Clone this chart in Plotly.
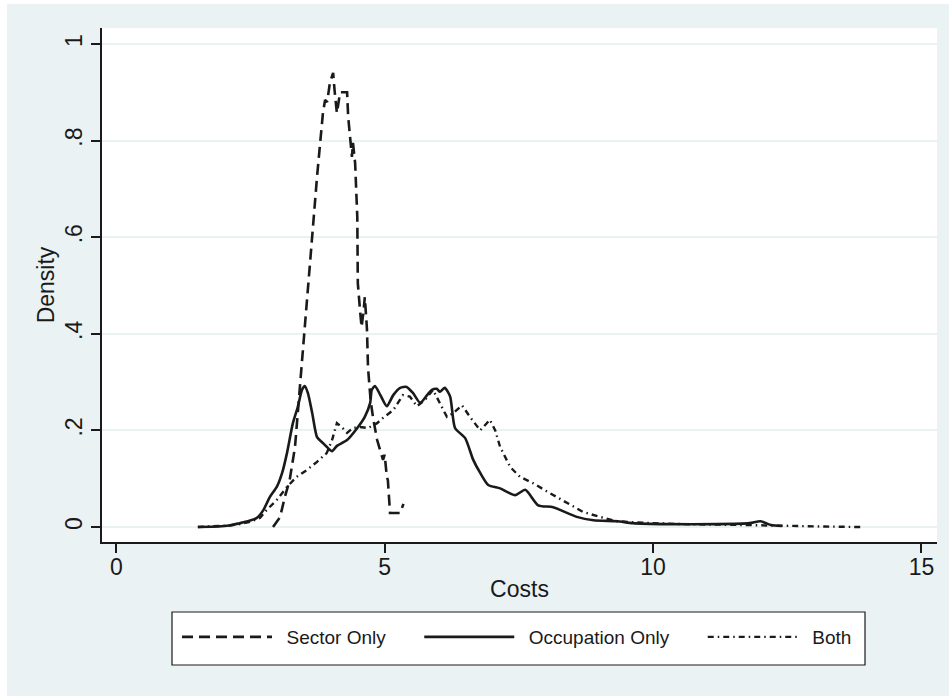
import plotly.graph_objects as go

# Sector Only (dashed)
sector_x = [2.92, 3.05, 3.14, 3.23, 3.33, 3.42, 3.51, 3.60, 3.67, 3.74, 3.80, 3.85, 3.89, 3.93, 3.98, 4.04,
            4.07, 4.11, 4.17, 4.22, 4.30, 4.32, 4.36, 4.39, 4.41, 4.45, 4.49, 4.50, 4.54, 4.57, 4.61, 4.63,
            4.67, 4.69, 4.74, 4.79, 4.86, 4.92, 4.97, 5.00, 5.02, 5.04, 5.06, 5.10, 5.16, 5.29, 5.35]
sector_y = [0.0, 0.02, 0.062, 0.097, 0.166, 0.284, 0.408, 0.538, 0.629, 0.725, 0.795, 0.857, 0.884, 0.88, 0.92, 0.94,
            0.90, 0.857, 0.90, 0.90, 0.90, 0.85, 0.80, 0.766, 0.795, 0.753, 0.642, 0.505, 0.45, 0.414, 0.45, 0.476,
            0.41, 0.33, 0.26, 0.222, 0.18, 0.16, 0.139, 0.15, 0.118, 0.104, 0.097, 0.029, 0.029, 0.029, 0.048]

# Occupation Only (solid)
occ_x = [1.52, 1.9, 2.1, 2.3, 2.45, 2.62, 2.74, 2.86, 2.99, 3.09, 3.18, 3.29, 3.38, 3.46, 3.51, 3.57, 3.65, 3.74,
         3.83, 3.92, 4.02, 4.11, 4.30, 4.49, 4.63, 4.73, 4.76, 4.82, 4.92, 5.04, 5.16, 5.29, 5.41, 5.53, 5.66,
         5.79, 5.88, 5.97, 6.03, 6.12, 6.22, 6.31, 6.50, 6.65, 6.78, 6.93, 7.15, 7.43, 7.62, 7.86, 8.14, 8.58,
         8.89, 9.33, 9.62, 10.26, 11.19, 11.80, 12.0, 12.2, 12.4]
occ_y = [0.0, 0.001, 0.003, 0.008, 0.012, 0.019, 0.035, 0.062, 0.083, 0.112, 0.153, 0.215, 0.248, 0.284, 0.292, 0.277,
         0.236, 0.186, 0.176, 0.166, 0.157, 0.168, 0.18, 0.205, 0.228, 0.257, 0.284, 0.292, 0.273, 0.25, 0.273,
         0.288, 0.29, 0.277, 0.257, 0.273, 0.284, 0.286, 0.28, 0.288, 0.27, 0.205, 0.184, 0.139, 0.112, 0.087,
         0.08, 0.066, 0.077, 0.045, 0.041, 0.021, 0.014, 0.012, 0.008, 0.006, 0.006, 0.008, 0.012, 0.004, 0.002]

# Both (dash-dot)
both_x = [1.52, 1.9, 2.1, 2.3, 2.5, 2.68, 2.80, 2.99, 3.18, 3.36, 3.55, 3.74, 3.92, 4.02, 4.11, 4.20, 4.30, 4.41,
          4.54, 4.69, 4.86, 4.97, 5.16, 5.34, 5.47, 5.60, 5.75, 5.90, 6.00, 6.07, 6.16, 6.28, 6.44, 6.59, 6.78,
          6.96, 7.06, 7.15, 7.34, 7.52, 7.76, 8.08, 8.40, 8.70, 9.01, 9.33, 9.95, 10.57, 11.8, 12.5, 13.2, 13.86]
both_y = [0.0, 0.001, 0.003, 0.006, 0.011, 0.019, 0.035, 0.056, 0.083, 0.104, 0.118, 0.135, 0.153, 0.18, 0.215,
          0.207, 0.195, 0.205, 0.207, 0.205, 0.215, 0.226, 0.242, 0.273, 0.27, 0.25, 0.263, 0.284, 0.263, 0.246,
          0.228, 0.236, 0.252, 0.228, 0.2, 0.222, 0.2, 0.166, 0.124, 0.104, 0.091, 0.07, 0.05, 0.031, 0.021, 0.012,
          0.008, 0.006, 0.004, 0.002, 0.001, 0.0]

series_names = ["Sector Only", "Occupation Only", "Both"]

y_ticks = [0, 0.2, 0.4, 0.6, 0.8, 1]
y_tick_labels = ["0", ".2", ".4", ".6", ".8", "1"]
x_ticks = [0, 5, 10, 15]
x_tick_labels = ["0", "5", "10", "15"]

FONT = "Liberation Sans, Arial, sans-serif"
BG = "#EAF2F3"
INK = "#1a1a1a"

# plot area in pixels: x 102..937, y 28..542
L, R, T, B = 102, 937, 28, 542
PW, PH = R - L, B - T


def px_x(p):
    return (p - L) / PW


def px_y(p):
    return (B - p) / PH


def legend_label(name):
    return "\u2002" + name + "\u2003\u2002"


fig = go.Figure()
fig.add_trace(go.Scatter(x=sector_x, y=sector_y, mode="lines", name=legend_label(series_names[0]),
                         line=dict(color=INK, width=2.6, dash="11px,6px")))
fig.add_trace(go.Scatter(x=occ_x, y=occ_y, mode="lines", name=legend_label(series_names[1]),
                         line=dict(color=INK, width=2.6, shape="spline", smoothing=0.6)))
fig.add_trace(go.Scatter(x=both_x, y=both_y, mode="lines", name="\u2002" + series_names[2],
                         line=dict(color=INK, width=2.4, dash="6px,4px,1.5px,4px")))

fig.update_layout(
    width=949, height=696,
    margin=dict(l=L, r=949 - R, t=T, b=696 - B),
    paper_bgcolor="white",
    plot_bgcolor="white",
    font=dict(family=FONT, color=INK, size=20),
    shapes=[
        dict(type="rect", xref="paper", yref="paper", layer="below",
             x0=px_x(7), x1=px_x(949), y0=px_y(696), y1=px_y(4),
             fillcolor=BG, line=dict(width=0)),
        dict(type="rect", xref="paper", yref="paper", layer="below",
             x0=0, x1=1, y0=0, y1=1, fillcolor="white", line=dict(width=0)),
        dict(type="rect", xref="paper", yref="paper", layer="below",
             x0=px_x(172), x1=px_x(865), y0=px_y(665), y1=px_y(612),
             fillcolor="white", line=dict(color=INK, width=1.2)),
    ],
    xaxis=dict(
        range=[-0.266, 15.29], tickvals=x_ticks, ticktext=x_tick_labels,
        showgrid=False, zeroline=False, showline=True, linecolor=INK, linewidth=1.5,
        ticks="outside", ticklen=9, tickwidth=1.5, tickcolor=INK, ticklabelstandoff=-5,
        tickfont=dict(size=23), title=dict(text="Costs", font=dict(size=23), standoff=2),
    ),
    yaxis=dict(
        range=[-0.031, 1.033], tickvals=y_ticks, ticktext=y_tick_labels,
        showgrid=True, gridcolor=BG, gridwidth=1.5, zeroline=False,
        showline=True, linecolor=INK, linewidth=1.5,
        ticks="outside", ticklen=9, tickwidth=1.5, tickcolor=INK, tickangle=-90,
        tickfont=dict(size=23), title=dict(text="Density", font=dict(size=23), standoff=0),
    ),
    legend=dict(
        orientation="h", x=px_x(177), xanchor="left", y=px_y(618), yanchor="top",
        bgcolor="rgba(0,0,0,0)", borderwidth=0,
        font=dict(size=19), itemwidth=90, traceorder="normal",
    ),
)

fig.write_html("out.html")
